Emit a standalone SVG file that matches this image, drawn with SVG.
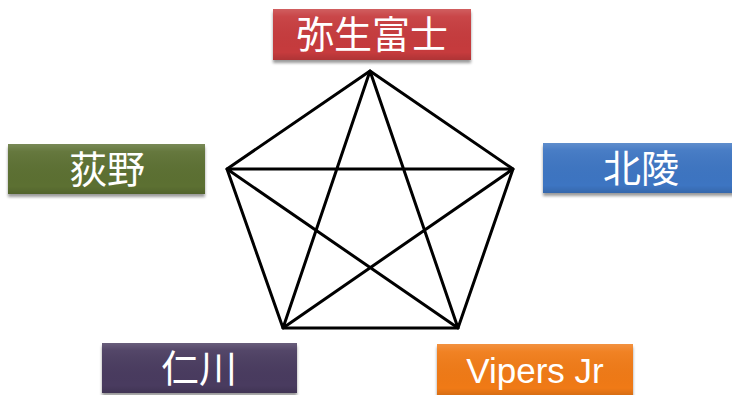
<svg xmlns="http://www.w3.org/2000/svg" width="732" height="395" viewBox="0 0 732 395">
<style>
.lbl{font-family:"Liberation Sans","Noto Sans CJK JP",sans-serif;font-size:38px;fill:#fff;text-anchor:middle}
.box{filter:url(#sh)}
.edge{stroke:#000;stroke-width:3;fill:none;stroke-linejoin:round}
</style>
<defs>
<filter id="sh" x="-10%" y="-20%" width="120%" height="150%">
<feGaussianBlur in="SourceAlpha" stdDeviation="1.5"/>
<feOffset dx="0" dy="3" result="b"/>
<feComponentTransfer><feFuncA type="linear" slope="0.4"/></feComponentTransfer>
<feMerge><feMergeNode/><feMergeNode in="SourceGraphic"/></feMerge>
</filter>
<linearGradient id="gl" x1="0" y1="0" x2="0" y2="1">
<stop offset="0" stop-color="#fff" stop-opacity="0.18"/>
<stop offset="0.15" stop-color="#fff" stop-opacity="0.06"/>
<stop offset="0.85" stop-color="#000" stop-opacity="0"/>
<stop offset="1" stop-color="#000" stop-opacity="0.12"/>
</linearGradient>
</defs>
<g id="edges">
<polygon class="edge" points="370,71 513,169 458,328 283,328 227,169"/>
<polygon class="edge" points="370,71 458,328 227,169 513,169 283,328"/>
</g>
<g id="n1">
<rect class="box" x="273" y="9" width="198" height="51" fill="#c63b3d"/>
<rect x="273" y="9" width="198" height="51" fill="url(#gl)"/>
<text class="lbl" x="372" y="48">弥生富士</text>
</g>
<g id="n2">
<rect class="box" x="543" y="143" width="197" height="50" fill="#3d75c2"/>
<rect x="543" y="143" width="197" height="50" fill="url(#gl)"/>
<text class="lbl" x="641" y="182">北陵</text>
</g>
<g id="n3">
<rect class="box" x="8" y="144" width="197" height="50" fill="#5b7031"/>
<rect x="8" y="144" width="197" height="50" fill="url(#gl)"/>
<text class="lbl" x="107" y="183">荻野</text>
</g>
<g id="n4">
<rect class="box" x="102" y="343" width="195" height="50" fill="#4a3b5e"/>
<rect x="102" y="343" width="195" height="50" fill="url(#gl)"/>
<text class="lbl" x="199" y="382">仁川</text>
</g>
<g id="n5">
<rect class="box" x="437" y="344" width="196" height="52" fill="#f07a18"/>
<rect x="437" y="344" width="196" height="52" fill="url(#gl)"/>
<text class="lbl" x="535" y="383" style="font-size:35px">Vipers Jr</text>
</g>
</svg>
